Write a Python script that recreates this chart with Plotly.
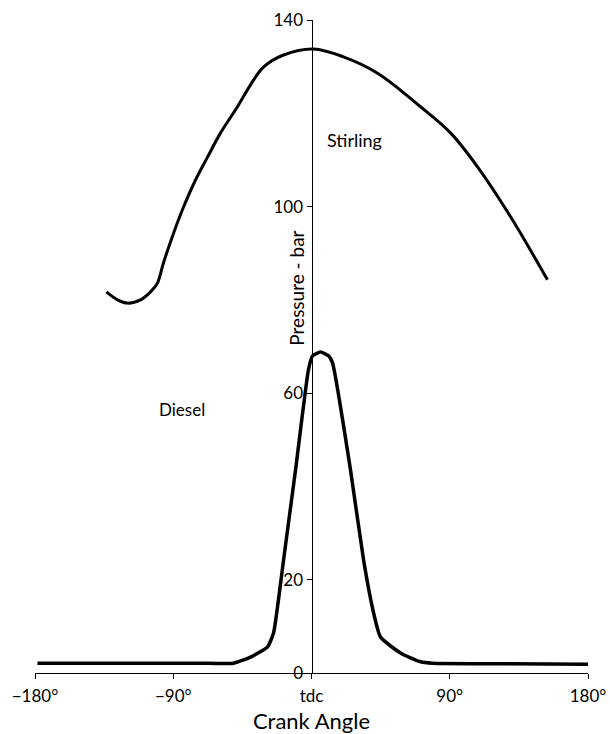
import plotly.graph_objects as go

# Stirling engine pressure vs crank angle
stirling_angle = [-133.5, -126.3, -119.8, -111.3, -104.8, -100.3, -96.4, -89.8, -83.3, -75.5,
                  -67.7, -59.2, -48.2, -39.7, -31.3, -18.2, 1.3, 20.8, 43.0, 71.0,
                  90.5, 108.1, 129.6, 153.6]
stirling_pressure = [81.7, 80.0, 79.3, 80.0, 81.7, 83.6, 87.9, 94.3, 99.9, 105.7,
                     110.6, 115.8, 121.4, 126.1, 129.9, 132.5, 133.8, 132.1, 128.6, 121.4,
                     115.8, 108.5, 97.8, 84.3]

# Diesel engine pressure vs crank angle
diesel_angle = [-178.4, -120.0, -72.9, -50.8, -39.7, -28.6, -24.7, -21.5, -18.2, -10.4,
                -2.0, 0.7, 5.9, 11.1, 13.7, 25.4, 33.9, 40.4, 44.9, 57.9,
                71.0, 78.8, 120.0, 180.0]
diesel_pressure = [2.1, 2.1, 2.1, 2.1, 3.4, 5.6, 8.6, 15.7, 24.2, 43.5,
                   65.0, 68.0, 68.8, 68.0, 66.5, 43.5, 24.2, 12.9, 7.7, 4.3,
                   2.4, 2.1, 2.0, 1.9]

x_tickvals = [-180, -90, 0, 90, 180]
x_ticktext = ["\u2212180\u00b0", "\u221290\u00b0", "tdc", "90\u00b0", "180\u00b0"]
y_tickvals = [0, 20, 60, 100, 140]
y_ticktext = ["0", "20", "60", "100", "140"]

FONT = "Lato, Open Sans, sans-serif"

fig = go.Figure()
fig.add_trace(go.Scatter(x=stirling_angle, y=stirling_pressure, mode="lines",
                         line=dict(color="black", width=3, shape="spline", smoothing=1.0),
                         showlegend=False, hoverinfo="skip"))
fig.add_trace(go.Scatter(x=diesel_angle, y=diesel_pressure, mode="lines",
                         line=dict(color="black", width=3.5, shape="spline", smoothing=0.5),
                         showlegend=False, hoverinfo="skip"))

fig.add_annotation(x=9.1, y=114.3, text="Stirling", showarrow=False, xanchor="left",
                   font=dict(family=FONT, size=18, color="black"))
fig.add_annotation(x=-100.8, y=56.4, text="Diesel", showarrow=False, xanchor="left",
                   font=dict(family=FONT, size=17, color="black"))
fig.add_annotation(x=-9.8, y=82.5, text="Pressure - bar", showarrow=False, textangle=-90,
                   font=dict(family=FONT, size=19, color="black"))

fig.update_layout(
    width=610, height=734,
    margin=dict(l=35, r=22, t=20, b=61, autoexpand=False),
    paper_bgcolor="white", plot_bgcolor="white",
    font=dict(family=FONT, size=17, color="black"),
    xaxis=dict(range=[-180, 180], tickvals=x_tickvals, ticktext=x_ticktext,
               showline=True, linecolor="black", linewidth=1,
               ticks="outside", ticklen=5, tickcolor="black",
               ticklabelstandoff=3, automargin=False,
               showgrid=False, zeroline=False,
               title=dict(text="Crank Angle", font=dict(family=FONT, size=22), standoff=9)),
    yaxis=dict(range=[0, 140], tickvals=y_tickvals, ticktext=y_ticktext,
               anchor="free", position=0.5, automargin=False,
               showline=True, linecolor="black", linewidth=1,
               ticks="outside", ticklen=5, tickcolor="black",
               showgrid=False, zeroline=False),
)

fig.write_html("out.html", config={"displayModeBar": False},
               post_script="document.body.style.margin='0';document.body.style.overflow='hidden';")
